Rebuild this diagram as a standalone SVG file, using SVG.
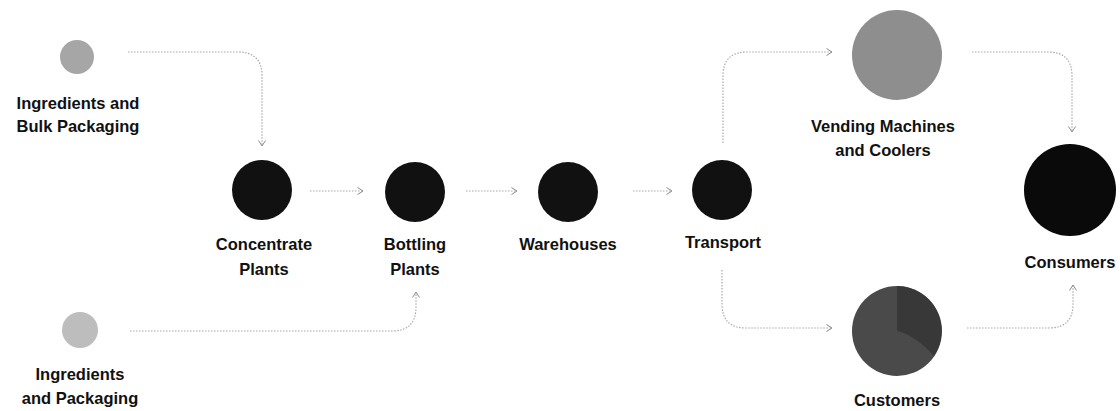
<svg xmlns="http://www.w3.org/2000/svg" width="1120" height="411" viewBox="0 0 1120 411">
<defs>
<marker id="arr" markerWidth="10" markerHeight="10" refX="6" refY="4" orient="auto" markerUnits="userSpaceOnUse">
<path d="M0.5,0.5 L6,4 L0.5,7.5" fill="none" stroke="#8a8a8a" stroke-width="1"/>
</marker>
</defs>
<style>
.lbl{font-family:"Liberation Sans",Arial,sans-serif;font-weight:bold;font-size:16.5px;fill:#111;text-anchor:middle}
.con{fill:none;stroke:#a8a8a8;stroke-width:1.2;stroke-dasharray:1.5 1.5;marker-end:url(#arr)}
.dark{fill:#111}
</style>
<rect width="1120" height="411" fill="#fff"/>
<g id="connectors">
<path class="con" d="M128,52 H238 Q262,52 262,76 V146"/>
<path class="con" d="M310,191 H363"/>
<path class="con" d="M466,191 H517"/>
<path class="con" d="M633,191 H672"/>
<path class="con" d="M130,331 H392 Q416,331 416,307 V292"/>
<path class="con" d="M723,143 V76 Q723,52 747,52 H832"/>
<path class="con" d="M972,52 H1048 Q1072,52 1072,76 V132"/>
<path class="con" d="M722,270 V304 Q722,328 746,328 H832"/>
<path class="con" d="M967,328 H1049 Q1073,328 1073,304 V285"/>
</g>
<g id="ingredients-bulk">
<circle cx="77" cy="57" r="17" fill="#a6a6a6"/>
<text class="lbl" x="78" y="109">Ingredients and</text>
<text class="lbl" x="78" y="132">Bulk Packaging</text>
</g>
<g id="concentrate-plants">
<circle class="dark" cx="262" cy="190" r="30"/>
<text class="lbl" x="264" y="250">Concentrate</text>
<text class="lbl" x="264" y="275">Plants</text>
</g>
<g id="bottling-plants">
<circle class="dark" cx="415" cy="192" r="30"/>
<text class="lbl" x="415" y="250">Bottling</text>
<text class="lbl" x="415" y="275">Plants</text>
</g>
<g id="warehouses">
<circle class="dark" cx="568" cy="192" r="30"/>
<text class="lbl" x="568" y="250">Warehouses</text>
</g>
<g id="transport">
<circle class="dark" cx="722" cy="190" r="30"/>
<text class="lbl" x="723" y="248">Transport</text>
</g>
<g id="vending">
<circle cx="897" cy="55" r="45" fill="#8e8e8e"/>
<text class="lbl" x="883" y="132">Vending Machines</text>
<text class="lbl" x="883" y="156">and Coolers</text>
</g>
<g id="consumers">
<circle cx="1070" cy="190" r="46" fill="#0a0a0a"/>
<text class="lbl" x="1070" y="268">Consumers</text>
</g>
<g id="customers">
<circle cx="897" cy="331" r="45" fill="#4a4a4a"/>
<path d="M897,331 L897,286 A45,45 0 0 1 934,356 Q915,335 897,331 Z" fill="#383838"/>
<text class="lbl" x="897" y="406">Customers</text>
</g>
<g id="ingredients-packaging">
<circle cx="80" cy="330" r="18" fill="#bdbdbd"/>
<text class="lbl" x="80" y="380">Ingredients</text>
<text class="lbl" x="80" y="404">and Packaging</text>
</g>
</svg>
